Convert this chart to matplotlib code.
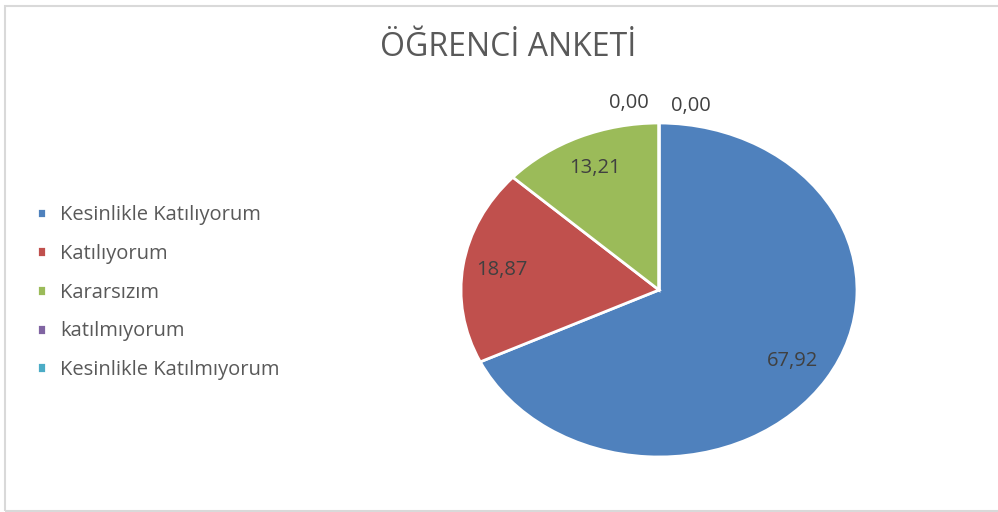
import numpy as np
import matplotlib.pyplot as plt
from matplotlib.patches import Rectangle

# survey answers (percent)
categories = ["Kesinlikle Katılıyorum", "Katılıyorum", "Kararsızım",
              "katılmıyorum", "Kesinlikle Katılmıyorum"]
values = [67.92, 18.87, 13.21, 0.00, 0.00]
colors = ["#4F81BD", "#C0504D", "#9BBB59", "#8064A2", "#4BACC6"]
title = "ÖĞRENCİ ANKETİ"

plt.rcParams['font.family'] = ['Open Sans', 'DejaVu Sans']

fig = plt.figure(figsize=(9.98, 5.12), dpi=100)

# light grey chart frame
fig.patches.append(Rectangle((5 / 998, 1 / 512), 1.2, 505 / 512, transform=fig.transFigure,
                             fill=False, edgecolor="#D9D9D9", linewidth=1.5))

ax = fig.add_axes([461 / 998, 55 / 512, 396 / 998, 334 / 512])
wedges, _ = ax.pie(values, colors=colors, startangle=90, counterclock=False,
                   wedgeprops=dict(edgecolor="white", linewidth=2))
ax.set_aspect('auto')
ax.set_xlim(-1, 1)
ax.set_ylim(-1, 1)

# data labels
zero_offsets = [-0.15, 0.16]
z = 0
for w, v in zip(wedges, values):
    txt = f"{v:.2f}".replace(".", ",")
    mid = np.deg2rad((w.theta1 + w.theta2) / 2)
    if v > 0:
        x, y = 0.8 * np.cos(mid), 0.8 * np.sin(mid)
    else:
        x, y = zero_offsets[z], 1.12 - 0.02 * z
        z += 1
    ax.text(x, y, txt, ha="center", va="center", fontsize=14.5, color="#404040")

fig.text(508 / 998, 1 - 47 / 512, title, ha="center", va="center",
         fontsize=23, color="#595959")

fig.legend(wedges, categories, loc="upper left", bbox_to_anchor=(19 / 998, 1 - 187 / 512),
           frameon=False, fontsize=14.5, labelcolor="#595959",
           handlelength=0.45, handleheight=0.45, handletextpad=0.7, labelspacing=0.93)

fig.savefig("out.png", dpi=100)
